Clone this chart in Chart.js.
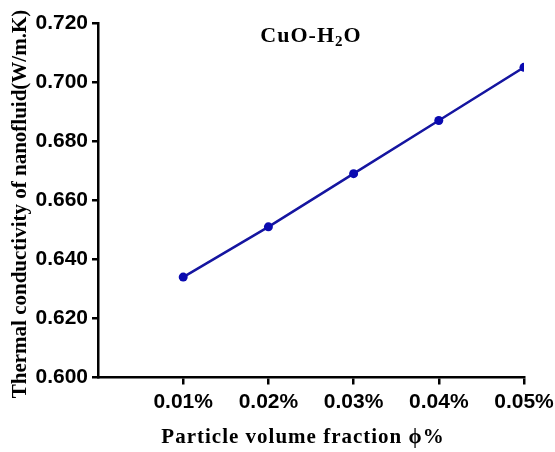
<!DOCTYPE html>
<html>
<head>
<meta charset="utf-8">
<script src="https://cdn.jsdelivr.net/npm/chart.js@4"></script>
<style>
  html, body { margin: 0; padding: 0; background: #fff; }
  #wrap { width: 555px; height: 452px; }
</style>
</head>
<body>
<div id="wrap"><canvas id="chart" width="555" height="452"></canvas></div>
<script>
// volume fraction (%) and measured thermal conductivity
const fractions = [0.01, 0.02, 0.03, 0.04, 0.05];
const conductivity = [0.634, 0.651, 0.669, 0.687, 0.705];
const xTicks = [0.01, 0.02, 0.03, 0.04, 0.05];
const yTicks = [0.600, 0.620, 0.640, 0.660, 0.680, 0.700, 0.720];

const sansBold = { family: "'Liberation Sans', Arial, sans-serif", weight: 'bold', size: 21 };
const SERIF = "'Liberation Serif', 'Times New Roman', serif";

// axis titles and the "CuO-H2O" label are drawn by hand (letter spacing, subscript)
const textLayer = {
  id: 'textLayer',
  afterDraw(chart) {
    const ctx = chart.ctx;
    const area = chart.chartArea;
    ctx.save();
    ctx.fillStyle = '#000';
    ctx.textBaseline = 'alphabetic';

    // fluid label with subscript 2
    ctx.letterSpacing = '1px';
    const parts = [["CuO-H", 22, 0], ["2", 15, 4], ["O", 22, 0]];
    let total = 0;
    parts.forEach(p => { ctx.font = `bold ${p[1]}px ${SERIF}`; total += ctx.measureText(p[0]).width; });
    let x = (area.left + area.right) / 2 - total / 2;
    parts.forEach(p => {
      ctx.font = `bold ${p[1]}px ${SERIF}`;
      ctx.fillText(p[0], x, 42 + p[2]);
      x += ctx.measureText(p[0]).width;
    });

    // x title
    ctx.textAlign = 'center';
    ctx.letterSpacing = '1px';
    ctx.font = `bold 21px ${SERIF}`;
    ctx.fillText('Particle volume fraction ϕ%', 303, 443);

    // y title, rotated
    ctx.letterSpacing = '0px';
    ctx.translate(26, 204);
    ctx.rotate(-Math.PI / 2);
    ctx.fillText('Thermal conductivity of nanofluid(W/m.K)', 0, 0);
    ctx.restore();
  }
};

new Chart(document.getElementById('chart').getContext('2d'), {
  type: 'line',
  data: {
    datasets: [{
      data: fractions.map((f, i) => ({ x: f, y: conductivity[i] })),
      borderColor: '#1515a0',
      backgroundColor: '#0a0ab0',
      borderWidth: 2.5,
      pointRadius: 4.5,
      pointBorderWidth: 0,
      tension: 0
    }]
  },
  options: {
    responsive: false,
    animation: false,
    layout: { padding: { top: 23, right: 31, bottom: 0, left: 0 } },
    plugins: { legend: { display: false }, tooltip: { enabled: false } },
    scales: {
      x: {
        type: 'linear',
        min: 0,
        max: 0.05,
        afterBuildTicks: axis => { axis.ticks = xTicks.map(v => ({ value: v })); },
        afterFit: scale => {
          scale.height = 74.5;
          scale.paddingLeft = 0;
          scale.paddingRight = 0;
        },
        ticks: {
          color: '#000',
          font: sansBold,
          padding: 5,
          maxRotation: 0,
          callback: v => v.toFixed(2) + '%'
        },
        grid: { drawOnChartArea: false, drawTicks: true, tickLength: 7, color: '#000', lineWidth: 2.5 },
        border: { color: '#000', width: 2.5 }
      },
      y: {
        min: 0.6,
        max: 0.72,
        afterBuildTicks: axis => { axis.ticks = yTicks.map(v => ({ value: v })); },
        afterFit: scale => { scale.width = 98; },
        ticks: {
          color: '#000',
          font: sansBold,
          padding: 4,
          callback: v => v.toFixed(3)
        },
        grid: { drawOnChartArea: false, drawTicks: true, tickLength: 6, color: '#000', lineWidth: 2.5 },
        border: { color: '#000', width: 2.5 }
      }
    }
  },
  plugins: [textLayer]
});
</script>
</body>
</html>
